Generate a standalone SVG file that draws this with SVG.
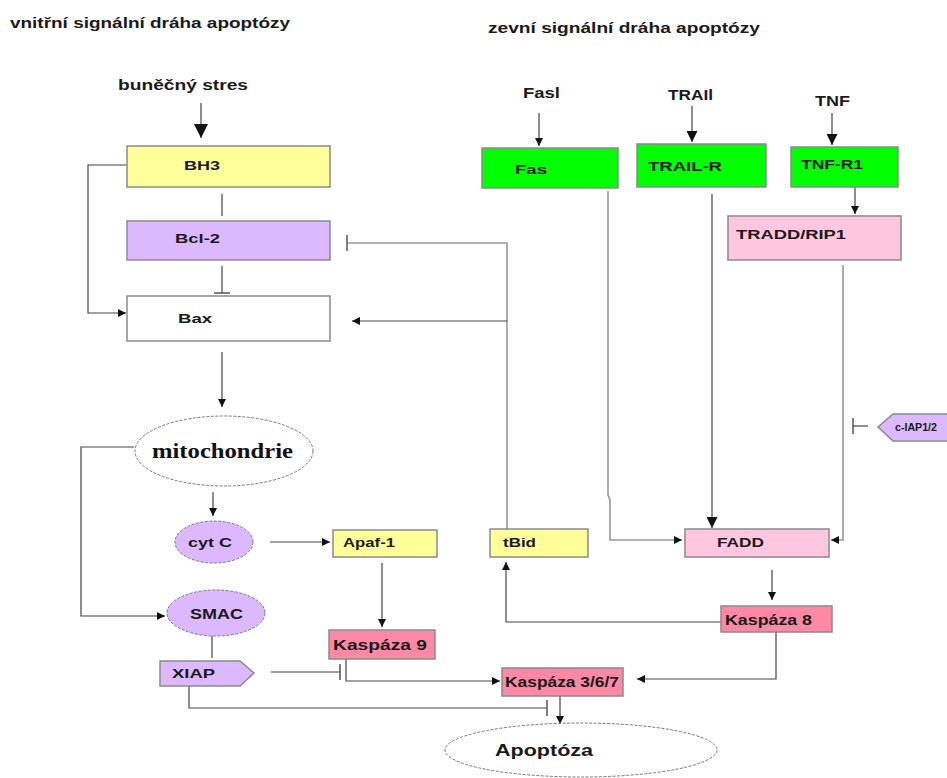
<svg xmlns="http://www.w3.org/2000/svg" width="947" height="778" viewBox="0 0 947 778">
<style>
text{font-family:"Liberation Sans",Arial,sans-serif;font-weight:bold;fill:#1a1a1a}
.t{font-size:15px}
.n{font-size:13.5px}
.k{font-size:15px}
.box{stroke:#8a8a8a;stroke-width:1.5}
.ell{stroke:#777;stroke-width:1;stroke-dasharray:3 1.5}
.yel{fill:#ffff99}
.lav{fill:#dcb9ff}
.grn{fill:#00ff00}
.pnk{fill:#ffc6e0}
.ksp{fill:#ff88a4}
.c{fill:none;stroke:#444;stroke-width:1.2}
.g{fill:none;stroke:#999;stroke-width:1.6}
</style>
<defs>
<marker id="a" viewBox="0 0 10 10" refX="10" refY="5" markerWidth="8" markerHeight="8" markerUnits="userSpaceOnUse" orient="auto"><path d="M0,0 L10,5 L0,10 z" fill="#111"/></marker>
<marker id="A" viewBox="0 0 10 10" refX="10" refY="5" markerWidth="14" markerHeight="14" markerUnits="userSpaceOnUse" orient="auto"><path d="M0,0 L10,5 L0,10 z" fill="#111"/></marker>
<marker id="M" viewBox="0 0 10 10" refX="10" refY="5" markerWidth="11" markerHeight="11" markerUnits="userSpaceOnUse" orient="auto"><path d="M0,0 L10,5 L0,10 z" fill="#111"/></marker>
<marker id="tee" viewBox="0 0 4 16" refX="2" refY="8" markerWidth="4" markerHeight="16" markerUnits="userSpaceOnUse" orient="auto"><path d="M2,0 V16" stroke="#555" stroke-width="1.5"/></marker>
</defs>

<g id="titles">
<text class="t" x="10" y="28" textLength="280" lengthAdjust="spacingAndGlyphs">vnitřní signální dráha apoptózy</text>
<text class="t" x="488" y="33" textLength="272" lengthAdjust="spacingAndGlyphs">zevní signální dráha apoptózy</text>
</g>

<g id="connectors">
<path class="c" d="M201,103 V138" marker-end="url(#A)"/>
<path class="c" d="M222,194 V216"/>
<path class="c" d="M222,266 V293" marker-end="url(#tee)"/>
<path class="c" d="M127,165 H88 V313 H126" marker-end="url(#a)"/>
<path class="g" d="M507,529 V243 H347" marker-end="url(#tee)"/>
<path class="c" d="M507,321 H352" marker-end="url(#a)"/>
<path class="c" d="M222,352 V407" marker-end="url(#a)"/>
<path class="c" d="M134,447 H81 V616 H165" marker-end="url(#a)"/>
<path class="c" d="M213,492 V516" marker-end="url(#a)"/>
<path class="c" d="M270,542 H330" marker-end="url(#a)"/>
<path class="c" d="M382,563 V627" marker-end="url(#a)"/>
<path class="c" d="M212,636 V658"/>
<path class="c" d="M271,672 H340" marker-end="url(#tee)"/>
<path class="c" d="M346,659 V681 H500" marker-end="url(#a)"/>
<path class="c" d="M189,686 V708 H547" marker-end="url(#tee)"/>
<path class="c" d="M560,696 V724" marker-end="url(#a)"/>
<path class="c" d="M776,632 V679 H637" marker-end="url(#a)"/>
<path class="c" d="M721,622 H506 V562" marker-end="url(#a)"/>
<path class="c" d="M772,570 V600" marker-end="url(#a)"/>
<path class="g" d="M608,191 V495 L610,500 V540 H682" marker-end="url(#a)"/>
<path class="c" d="M712,194 V528" marker-end="url(#M)"/>
<path class="g" d="M843,265 V540 H831" marker-end="url(#a)"/>
<path class="c" d="M868,426 H853" marker-end="url(#tee)"/>
<path class="c" d="M539,113 V146" marker-end="url(#a)"/>
<path class="c" d="M692,106 V142" marker-end="url(#M)"/>
<path class="c" d="M832,113 V145" marker-end="url(#M)"/>
<path class="c" d="M855,187 V214" marker-end="url(#a)"/>
</g>

<g id="bunecny-stres"><text class="t" x="118" y="90" textLength="130" lengthAdjust="spacingAndGlyphs">buněčný stres</text></g>
<g id="BH3"><rect class="box yel" x="127" y="146" width="203" height="41"/><text class="n" x="184" y="170" textLength="36" lengthAdjust="spacingAndGlyphs">BH3</text></g>
<g id="Bcl-2"><rect class="box lav" x="127" y="221" width="203" height="39"/><text class="n" x="175" y="243" textLength="45" lengthAdjust="spacingAndGlyphs">Bcl-2</text></g>
<g id="Bax"><rect class="box" fill="#fff" x="127" y="296" width="203" height="45"/><text class="n" x="178" y="323" textLength="34" lengthAdjust="spacingAndGlyphs">Bax</text></g>
<g id="mitochondrie"><ellipse class="ell" fill="#fff" cx="224" cy="451" rx="89" ry="35"/><text x="152" y="458" style="font-family:'Liberation Serif','Times New Roman',serif;font-size:21px;fill:#111" textLength="141" lengthAdjust="spacingAndGlyphs">mitochondrie</text></g>
<g id="cytC"><ellipse class="ell lav" cx="214" cy="542" rx="39" ry="21"/><text class="n" x="188" y="547" textLength="44" lengthAdjust="spacingAndGlyphs">cyt C</text></g>
<g id="Apaf-1"><rect class="box yel" x="333" y="530" width="104" height="27"/><text class="n" x="343" y="547" textLength="52" lengthAdjust="spacingAndGlyphs">Apaf-1</text></g>
<g id="SMAC"><ellipse class="ell lav" cx="216" cy="613" rx="49" ry="23"/><text class="t" x="190" y="619" textLength="53" lengthAdjust="spacingAndGlyphs">SMAC</text></g>
<g id="XIAP"><path class="box lav" d="M160,661 H240 L254,673 L240,686 H160 Z"/><text class="n" x="172" y="678" textLength="43" lengthAdjust="spacingAndGlyphs">XIAP</text></g>
<g id="Kaspaza9"><rect class="box ksp" x="329" y="630" width="106" height="29"/><text class="k" x="333" y="650" textLength="94" lengthAdjust="spacingAndGlyphs">Kaspáza 9</text></g>
<g id="Kaspaza367"><rect class="box ksp" x="502" y="668" width="121" height="28"/><text class="k" x="505" y="687" textLength="114" lengthAdjust="spacingAndGlyphs">Kaspáza 3/6/7</text></g>
<g id="Apoptoza"><ellipse class="ell" fill="#fff" cx="581" cy="750" rx="136" ry="27"/><text class="t" x="495" y="756" style="font-size:16px" textLength="98" lengthAdjust="spacingAndGlyphs">Apoptóza</text></g>
<g id="tBid"><rect class="box yel" x="490" y="529" width="98" height="28"/><text class="n" x="503" y="547" textLength="33" lengthAdjust="spacingAndGlyphs">tBid</text></g>
<g id="FADD"><rect class="box pnk" x="685" y="529" width="144" height="28"/><text class="n" x="717" y="547" textLength="47" lengthAdjust="spacingAndGlyphs">FADD</text></g>
<g id="Kaspaza8"><rect class="box ksp" x="721" y="606" width="111" height="26"/><text class="k" x="725" y="625" textLength="87" lengthAdjust="spacingAndGlyphs">Kaspáza 8</text></g>
<g id="cIAP"><path class="box lav" d="M878,427 L893,414 H950 V441 H893 Z"/><text x="895" y="431" style="font-size:11.5px" textLength="42" lengthAdjust="spacingAndGlyphs">c-IAP1/2</text></g>
<g id="Fasl"><text class="t" x="523" y="98" textLength="37" lengthAdjust="spacingAndGlyphs">Fasl</text></g>
<g id="TRAIl"><text class="t" x="668" y="100" textLength="45" lengthAdjust="spacingAndGlyphs">TRAIl</text></g>
<g id="TNF"><text class="t" x="815" y="106" textLength="35" lengthAdjust="spacingAndGlyphs">TNF</text></g>
<g id="Fas"><rect class="box grn" x="482" y="148" width="136" height="40"/><text class="n" x="515" y="174" textLength="32" lengthAdjust="spacingAndGlyphs">Fas</text></g>
<g id="TRAIL-R"><rect class="box grn" x="637" y="144" width="129" height="43"/><text class="n" x="648" y="171" textLength="74" lengthAdjust="spacingAndGlyphs">TRAIL-R</text></g>
<g id="TNF-R1"><rect class="box grn" x="791" y="147" width="107" height="40"/><text class="n" x="801" y="169" textLength="62" lengthAdjust="spacingAndGlyphs">TNF-R1</text></g>
<g id="TRADD-RIP1"><rect class="box pnk" x="728" y="216" width="173" height="44"/><text class="n" x="736" y="239" textLength="110" lengthAdjust="spacingAndGlyphs">TRADD/RIP1</text></g>
</svg>
